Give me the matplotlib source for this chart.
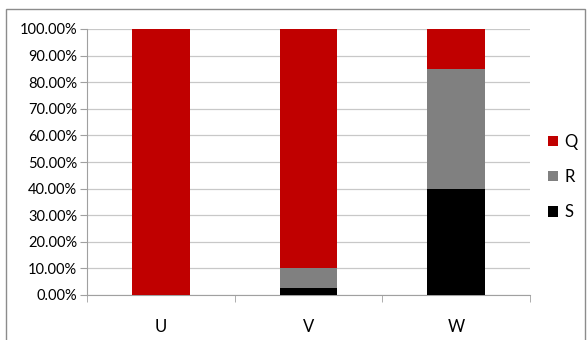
import matplotlib
matplotlib.use("Agg")
from matplotlib import pyplot as plt
from matplotlib.patches import Rectangle
from matplotlib.ticker import FuncFormatter
import numpy as np

# Data (shares per category)
categories = ['U', 'V', 'W']
series_names = ['Q', 'R', 'S']
q_vals = [100.0, 90.0, 15.0]
r_vals = [0.0, 7.5, 45.0]
s_vals = [0.0, 2.5, 40.0]
colors = {'Q': '#c00000', 'R': '#808080', 'S': '#000000'}

plt.rcParams['font.family'] = ['Lato', 'DejaVu Sans']

fig = plt.figure(figsize=(5.87, 3.40), dpi=100)
W, H = 587, 340
ax = fig.add_axes([87 / W, 1 - 295 / H, (530 - 87) / W, (295 - 29) / H])

x = np.arange(len(categories))
s = np.array(s_vals)
r = np.array(r_vals)
q = np.array(q_vals)
bw = 0.39
ax.bar(x, s, bw, color=colors['S'], label='S', zorder=3)
ax.bar(x, r, bw, bottom=s, color=colors['R'], label='R', zorder=3)
ax.bar(x, q, bw, bottom=s + r, color=colors['Q'], label='Q', zorder=3)

ax.set_xlim(-0.5, len(categories) - 0.5)
ax.set_ylim(0, 100)
ax.set_yticks(np.arange(0, 101, 10))
ax.yaxis.set_major_formatter(FuncFormatter(lambda v, p: f"{v:.2f}%"))
ax.grid(axis='y', color='#c8c8c8', linewidth=0.9, zorder=0)
ax.set_axisbelow(True)

ax.set_xticks(x)
ax.set_xticklabels(categories)
ax.set_xticks(np.arange(-0.5, len(categories)), minor=True)
ax.tick_params(axis='x', which='major', length=0, pad=17, labelsize=12)
ax.tick_params(axis='x', which='minor', length=5, color='#a0a0a0', direction='out')
ax.tick_params(axis='y', length=5, color='#a0a0a0', labelsize=10.5, pad=2)

for side in ['top', 'right']:
    ax.spines[side].set_visible(False)
for side in ['left', 'bottom']:
    ax.spines[side].set_color('#a0a0a0')

handles, labels = ax.get_legend_handles_labels()
leg = fig.legend(handles[::-1], labels[::-1], loc='center left',
                 bbox_to_anchor=(548 / W, 1 - 177 / H), frameon=False,
                 borderpad=0, borderaxespad=0,
                 handlelength=0.6, handleheight=0.6, labelspacing=1.15,
                 handletextpad=0.4, fontsize=12)

# outer chart frame
fig.patches.append(Rectangle((6 / W, -0.05), (585 - 6) / W, 1 - 9 / H + 0.05,
                             transform=fig.transFigure, fill=False,
                             edgecolor='#8c8c8c', linewidth=1.0))

fig.savefig('out.png', dpi=100)
